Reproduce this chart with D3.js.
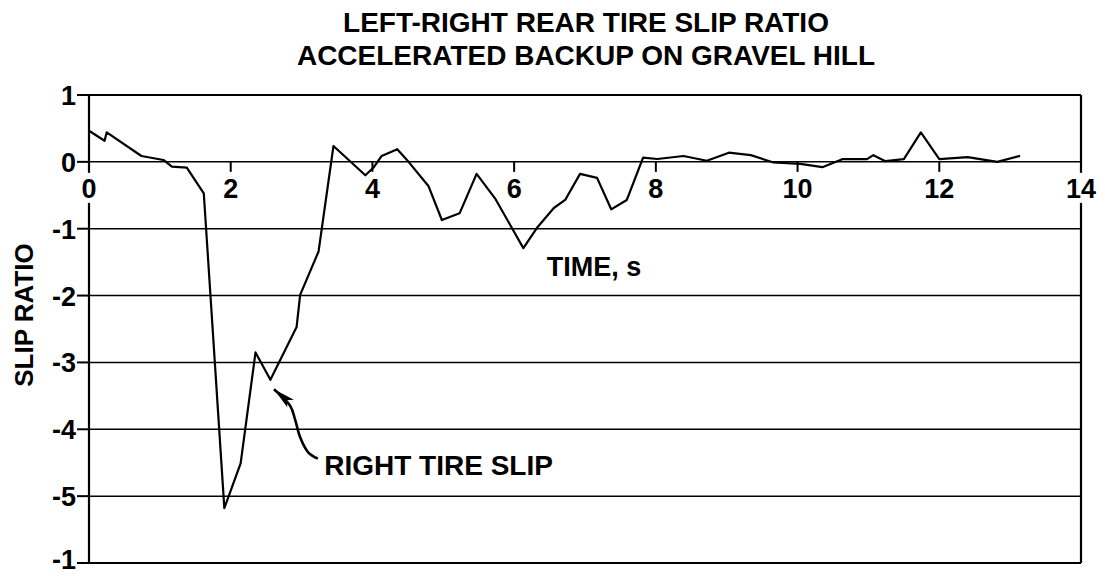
<!DOCTYPE html>
<html><head><meta charset="utf-8">
<script src="https://cdn.jsdelivr.net/npm/d3@7"></script>
<style>
body{margin:0;background:#fff}
text{font-family:"Liberation Sans",Arial,sans-serif;fill:#000;font-weight:bold}
</style>
</head><body>
<svg id="chart" width="1105" height="576"></svg>
<script>
// ---- data ----
const titleLines = ["LEFT-RIGHT REAR TIRE SLIP RATIO", "ACCELERATED BACKUP ON GRAVEL HILL"];
const xLabel = "TIME, s";
const yLabel = "SLIP RATIO";
const annotationText = "RIGHT TIRE SLIP";
const timeS = [0, 0.22, 0.25, 0.74, 1.05, 1.17, 1.38, 1.62, 1.91, 2.14, 2.35, 2.56, 2.93, 2.98, 3.24, 3.45,
  3.90, 4.02, 4.13, 4.35, 4.51, 4.79, 4.98, 5.23, 5.47, 5.73, 6.13, 6.32, 6.56, 6.72, 6.93, 7.17, 7.37, 7.59,
  7.82, 8.02, 8.39, 8.72, 9.03, 9.34, 9.66, 10.04, 10.35, 10.63, 10.98, 11.07, 11.24, 11.50, 11.74, 12.00,
  12.40, 12.82, 13.14];
const slipRatio = [0.466, 0.316, 0.442, 0.088, 0.028, -0.072, -0.087, -0.47, -5.18, -4.51, -2.85, -3.26, -2.47, -1.99, -1.34, 0.237,
  -0.20, -0.08, 0.088, 0.19, 0.0, -0.36, -0.87, -0.77, -0.18, -0.545, -1.29, -0.99, -0.69, -0.57, -0.18, -0.24, -0.71, -0.57,
  0.062, 0.043, 0.088, 0.017, 0.137, 0.10, -0.01, -0.03, -0.08, 0.04, 0.04, 0.10, 0.01, 0.04, 0.44, 0.04,
  0.07, 0.0, 0.09];
const xTicks = [0, 2, 4, 6, 8, 10, 12, 14];
const yTicks = [1, 0, -1, -2, -3, -4, -5, -6];
const yTickLabels = ["1", "0", "-1", "-2", "-3", "-4", "-5", "-1"];
// annotation leader (data units), tail -> tip
const arrowT = [3.23, 3.09, 2.98, 2.91, 2.84, 2.61];
const arrowV = [-4.44, -4.34, -4.12, -3.86, -3.65, -3.40];
const annotationPos = {t: 3.32, v: -4.68};
const xLabelPos = {t: 6.46, v: -1.71};

// ---- layout ----
const svg = d3.select("#chart");
const x = d3.scaleLinear().domain([0, 14]).range([89, 1081]);
const y = d3.scaleLinear().domain([-6, 1]).range([563, 95]);

svg.append("rect").attr("width", 1105).attr("height", 576).attr("fill", "#fff");

// title
svg.selectAll("text.title").data(titleLines).enter().append("text")
  .attr("class", "title").attr("x", 586).attr("y", (d, i) => 32 + i * 33)
  .attr("text-anchor", "middle").attr("font-size", 28).text(d => d);

// horizontal grid lines
svg.selectAll("line.grid").data(yTicks).enter().append("line")
  .attr("x1", x(0)).attr("x2", x(14))
  .attr("y1", d => y(d)).attr("y2", d => y(d))
  .attr("stroke", "#000").attr("stroke-width", d => (d === 1 || d === -6) ? 2.2 : 1.5);

// left axis and right border
svg.append("line").attr("x1", x(0)).attr("x2", x(0)).attr("y1", y(1)).attr("y2", y(-6))
  .attr("stroke", "#000").attr("stroke-width", 2.2);
svg.append("line").attr("x1", x(14)).attr("x2", x(14)).attr("y1", y(1)).attr("y2", y(-6))
  .attr("stroke", "#000").attr("stroke-width", 2.2);

// y ticks
svg.selectAll("line.yt").data(yTicks).enter().append("line")
  .attr("x1", x(0) - 12).attr("x2", x(0))
  .attr("y1", d => y(d)).attr("y2", d => y(d))
  .attr("stroke", "#000").attr("stroke-width", 2);
svg.selectAll("text.yl").data(yTicks).enter().append("text")
  .attr("class", "yl").attr("x", 76).attr("y", d => Math.min(y(d) + 10, 569))
  .attr("text-anchor", "end").attr("font-size", 27)
  .text((d, i) => yTickLabels[i]);

// x ticks
svg.selectAll("line.xt").data(xTicks).enter().append("line")
  .attr("x1", d => x(d)).attr("x2", d => x(d))
  .attr("y1", y(0)).attr("y2", y(0) + 10)
  .attr("stroke", "#000").attr("stroke-width", 2);
const xl = svg.selectAll("g.xl").data(xTicks).enter().append("g");
xl.append("rect")
  .attr("x", d => x(d) - (d >= 10 ? 18 : 10)).attr("y", y(0) + 11)
  .attr("width", d => d >= 10 ? 36 : 20).attr("height", 30).attr("fill", "#fff");
xl.append("text").attr("x", d => x(d)).attr("y", y(0) + 36)
  .attr("text-anchor", "middle").attr("font-size", 27).text(d => d);

// data line
const pts = timeS.map((t, i) => [t, slipRatio[i]]);
svg.append("path").datum(pts)
  .attr("d", d3.line().x(d => x(d[0])).y(d => y(d[1])))
  .attr("fill", "none").attr("stroke", "#000").attr("stroke-width", 2.2)
  .attr("stroke-linejoin", "round");

// axis labels
svg.append("text").attr("x", x(xLabelPos.t)).attr("y", y(xLabelPos.v))
  .attr("font-size", 27).text(xLabel);
svg.append("text").attr("transform", "translate(33,315) rotate(-90)")
  .attr("text-anchor", "middle").attr("font-size", 26).text(yLabel);

// annotation
const defs = svg.append("defs");
defs.append("marker").attr("id", "ah").attr("viewBox", "0 0 22 10")
  .attr("refX", 22).attr("refY", 5).attr("markerWidth", 22).attr("markerHeight", 10)
  .attr("markerUnits", "userSpaceOnUse").attr("orient", "auto")
  .append("path").attr("d", "M0,0 L22,5 L0,10 L5,5 z").attr("fill", "#000");
const apts = arrowT.map((t, i) => [t, arrowV[i]]);
svg.append("path").datum(apts)
  .attr("d", d3.line().x(d => x(d[0])).y(d => y(d[1])).curve(d3.curveCatmullRom))
  .attr("fill", "none").attr("stroke", "#000").attr("stroke-width", 2.6)
  .attr("marker-end", "url(#ah)");
svg.append("text").attr("x", x(annotationPos.t)).attr("y", y(annotationPos.v))
  .attr("font-size", 28).text(annotationText);
</script>
</body></html>
